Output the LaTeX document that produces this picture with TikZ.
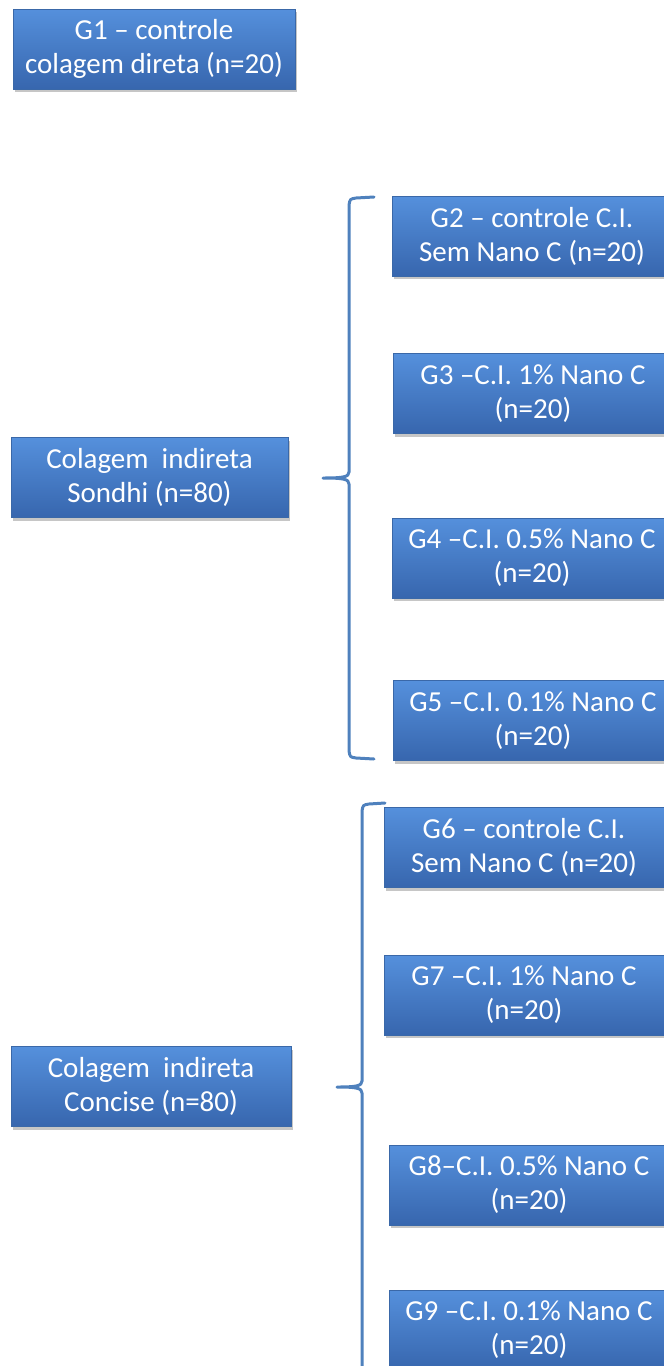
\documentclass[tikz,border=0pt]{standalone}
\usepackage{fontspec}
\setmainfont{Carlito}
\usetikzlibrary{shadows}

\definecolor{boxtop}{HTML}{5590DC}
\definecolor{boxbottom}{HTML}{3766AE}
\definecolor{boxline}{HTML}{3A68A8}
\definecolor{bracecol}{HTML}{4F81BD}

\begin{document}
\begin{tikzpicture}[
  x=1pt, y=-1pt,
  group node/.style={draw=boxline, line width=0.6pt,
    top color=boxtop, bottom color=boxbottom, text=white,
    align=center, inner sep=0pt, minimum width=280pt, minimum height=80pt,
    font=\fontsize{29}{34}\selectfont,
    drop shadow={shadow xshift=2pt, shadow yshift=-3pt, opacity=0.45}},
  brace line/.style={draw=bracecol, line width=3pt, line cap=round},
]
  % stem x, top, bottom, middle, tip x, end x
  \newcommand*{\GroupBrace}[6]{
    \draw[brace line]
      (#6,#2) -- (#1+7,#2+1) .. controls (#1+1,#2+2) .. (#1,#2+8)
      -- (#1,#4-6) .. controls (#1,#4-1) and (#1-6,#4) .. (#5,#4)
      (#1,#4+6) .. controls (#1,#4+1) and (#1-6,#4) .. (#5,#4)
      (#1,#4+6) -- (#1,#3-8) .. controls (#1+1,#3-2) .. (#1+7,#3-1)
      -- (#6,#3)
    ;
  }

  \clip (0,0) rectangle (664,1366);
  \useasboundingbox (0,0) rectangle (664,1366);

  % Left column
  \node[group node, minimum width=282pt] (g1) at (154,49)
    {G1 -- controle\\colagem direta (n=20)};
  \node[group node, minimum width=277pt] (sondhi) at (149.5,477.5)
    {Colagem\ \ indireta\\Sondhi (n=80)};
  \node[group node] (concise) at (151,1086.5)
    {Colagem\ \ indireta\\Concise (n=80)};

  % Sondhi groups
  \node[group node] (g2) at (532,236) {G2 -- controle C.I.\\Sem Nano C (n=20)};
  \node[group node] (g3) at (533,393.5) {G3 --C.I. 1\% Nano C\\(n=20)};
  \node[group node] (g4) at (532,558) {G4 --C.I. 0.5\% Nano C\\(n=20)};
  \node[group node] (g5) at (533,720.5) {G5 --C.I. 0.1\% Nano C\\(n=20)};

  % Concise groups
  \node[group node] (g6) at (524,847.5) {G6 -- controle C.I.\\Sem Nano C (n=20)};
  \node[group node] (g7) at (524,995) {G7 --C.I. 1\% Nano C\\(n=20)};
  \node[group node] (g8) at (529,1185) {G8--C.I. 0.5\% Nano C\\(n=20)};
  \node[group node] (g9) at (529,1330) {G9 --C.I. 0.1\% Nano C\\(n=20)};

  % Braces
  \GroupBrace{349}{197}{759}{478}{323}{374}
  \GroupBrace{362}{803}{1420}{1087}{337}{385}

\end{tikzpicture}
\end{document}
